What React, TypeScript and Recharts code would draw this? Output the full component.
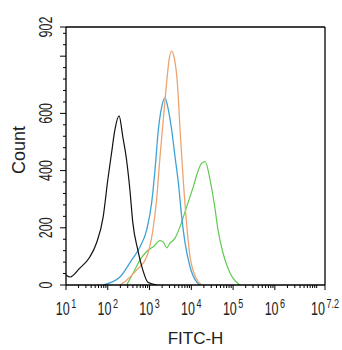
import React from "react";
import { LineChart, Line, XAxis, YAxis, ReferenceLine, Label } from "recharts";

// log10(FITC-H) positions and counts for each histogram
const blackLog = [1.0, 1.1, 1.33, 1.57, 1.73, 1.89, 2.0, 2.09, 2.17, 2.27, 2.36, 2.45, 2.53, 2.6, 2.72, 2.84, 2.96, 3.18];
const blackCount = [35, 28, 59, 98, 147, 238, 367, 461, 542, 591, 518, 437, 332, 217, 122, 52, 10, 0];

const blueLog = [1.89, 2.29, 2.57, 2.77, 2.93, 3.05, 3.13, 3.21, 3.29, 3.37, 3.45, 3.53, 3.61, 3.69, 3.77, 3.85, 3.97, 4.13, 4.21];
const blueCount = [0, 28, 87, 133, 192, 287, 402, 542, 622, 654, 612, 542, 448, 357, 238, 147, 63, 10, 0];

const orangeLog = [2.29, 2.45, 2.69, 2.93, 3.08, 3.17, 3.25, 3.33, 3.41, 3.47, 3.53, 3.59, 3.66, 3.74, 3.81, 3.89, 3.97, 4.13, 4.25];
const orangeCount = [0, 17, 52, 98, 192, 300, 448, 580, 710, 790, 818, 795, 717, 520, 360, 210, 98, 20, 0];

const greenLog = [2.45, 2.61, 2.77, 2.93, 3.09, 3.25, 3.33, 3.41, 3.49, 3.61, 3.73, 3.89, 4.05, 4.17, 4.25, 4.33, 4.45, 4.56, 4.64, 4.76, 4.88, 5.0, 5.16];
const greenCount = [0, 42, 87, 117, 134, 155, 150, 130, 146, 164, 204, 274, 345, 402, 426, 431, 367, 274, 192, 111, 58, 23, 0];

const xMajor = [1, 2, 3, 4, 5, 6, 7.2];
const xMinorFactors = [2, 3, 4, 5, 6, 7, 8, 9];
const yLabels = [0, 200, 400, 600, 902];
const yMajor = [0, 200, 400, 600, 800, 902];
const yStep = 40;
const yMax = 902;
const xTitle = "FITC-H";
const yTitle = "Count";

const toRows = (xs: number[], ys: number[]) => xs.map((x, i) => ({ x, y: ys[i] }));

const blackData = toRows(blackLog, blackCount);
const blueData = toRows(blueLog, blueCount);
const orangeData = toRows(orangeLog, orangeCount);
const greenData = toRows(greenLog, greenCount);

const xTicks: number[] = [];
for (let d = 1; d <= 6; d++) {
  xTicks.push(d);
  xMinorFactors.forEach((k) => xTicks.push(d + Math.log10(k)));
}
xTicks.push(7, 7.2);

const yTicks: number[] = [];
for (let v = 0; v < yMax; v += yStep) yTicks.push(v);
yTicks.push(yMax);

const FONT = "'Liberation Sans', Arial, sans-serif";

const XTick = (props: any) => {
  const { x, y, payload } = props;
  const v = payload.value;
  const isMajor = xMajor.some((m) => Math.abs(m - v) < 1e-9);
  const len = isMajor ? 5 : 3;
  return (
    <g>
      <line x1={x} x2={x} y1={y} y2={y + len} stroke="#000" strokeWidth={1} />
      {isMajor && (
        <g transform={`translate(${x},${y + 29.5}) scale(1,1.4)`}>
          <text textAnchor="middle" fontFamily={FONT} fontSize={12.5} fill="#222">
            10
            <tspan fontSize={9} dx={1.5} dy={-4.6}>
              {String(v)}
            </tspan>
          </text>
        </g>
      )}
    </g>
  );
};

const YTick = (props: any) => {
  const { x, y, payload } = props;
  const v = payload.value;
  const isMajor = yMajor.includes(v);
  const len = isMajor ? 6 : 3;
  return (
    <g>
      <line x1={x - len} x2={x} y1={y} y2={y} stroke="#000" strokeWidth={1} />
      {yLabels.includes(v) && (
        <g transform={`translate(${x - 14},${y}) rotate(-90) scale(1,1.4)`}>
          <text textAnchor="middle" fontFamily={FONT} fontSize={12.5} fill="#222">
            {String(v)}
          </text>
        </g>
      )}
    </g>
  );
};

const XTitle = (props: any) => {
  const vb = props.viewBox;
  return (
    <text x={vb.x + vb.width / 2} y={vb.y + 59} textAnchor="middle" fontFamily={FONT} fontSize={17} fill="#222">
      {xTitle}
    </text>
  );
};

const YTitle = (props: any) => {
  const vb = props.viewBox;
  const cy = vb.y + vb.height / 2 - 6;
  return (
    <text transform={`translate(25,${cy}) rotate(-90)`} textAnchor="middle" fontFamily={FONT} fontSize={18} fill="#222">
      {yTitle}
    </text>
  );
};

export default function App() {
  return (
    <div style={{ position: "absolute", left: 0, top: 0, width: 342, height: 350, background: "#fff" }}>
      <LineChart width={342} height={350} margin={{ top: 27, right: 17, bottom: 25, left: 0 }}>
        <XAxis
          type="number"
          dataKey="x"
          domain={[1, 7.2]}
          ticks={xTicks}
          interval={0}
          tick={<XTick />}
          tickLine={false}
          tickSize={0}
          tickMargin={0}
          height={40}
          axisLine={{ stroke: "#000", strokeWidth: 1.3 }}
          allowDataOverflow
        >
          <Label content={<XTitle />} />
        </XAxis>
        <YAxis
          type="number"
          dataKey="y"
          domain={[0, yMax]}
          ticks={yTicks}
          interval={0}
          tick={<YTick />}
          tickLine={false}
          tickSize={0}
          tickMargin={0}
          width={66}
          axisLine={{ stroke: "#000", strokeWidth: 1.3 }}
          allowDataOverflow
        >
          <Label content={<YTitle />} />
        </YAxis>
        <ReferenceLine y={yMax} stroke="#000" strokeWidth={1.3} ifOverflow="visible" />
        <ReferenceLine x={7.2} stroke="#000" strokeWidth={1.3} ifOverflow="visible" />
        <Line data={greenData} dataKey="y" type="monotone" stroke="#5fcb4f" strokeWidth={1.2} dot={false} isAnimationActive={false} />
        <Line data={blueData} dataKey="y" type="monotone" stroke="#3fa3d6" strokeWidth={1.3} dot={false} isAnimationActive={false} />
        <Line data={orangeData} dataKey="y" type="monotone" stroke="#eda472" strokeWidth={1.3} dot={false} isAnimationActive={false} />
        <Line data={blackData} dataKey="y" type="monotone" stroke="#111" strokeWidth={1.2} dot={false} isAnimationActive={false} />
      </LineChart>
    </div>
  );
}
